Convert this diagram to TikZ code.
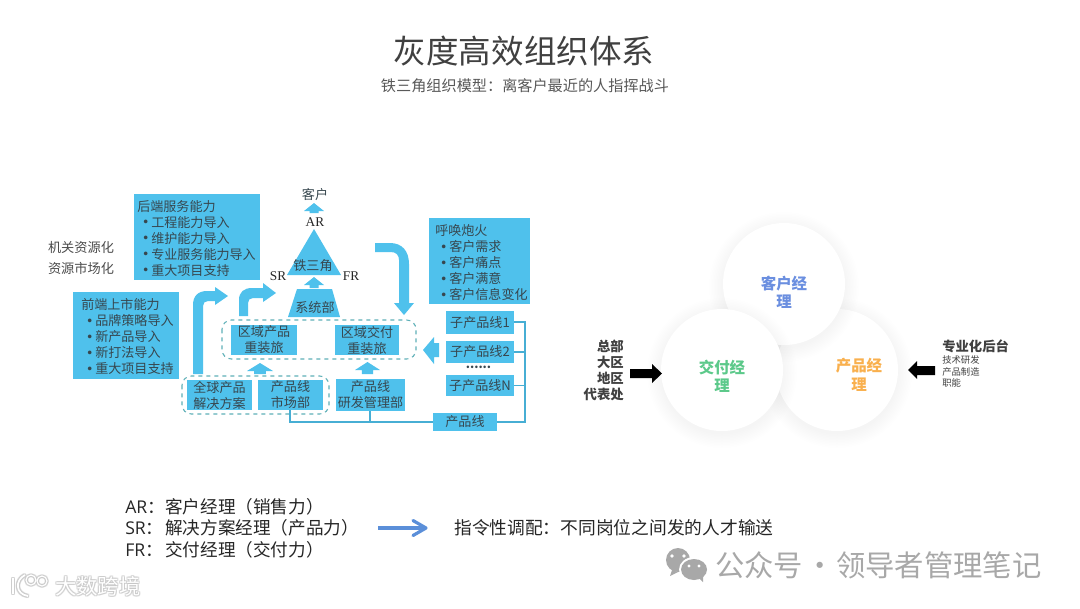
\documentclass[tikz,border=0pt]{standalone}
\usepackage{fontspec}
\setmainfont{Noto Sans CJK SC}
\newfontfamily\lat{Liberation Serif}
\newfontfamily\legl{Open Sans}
\usetikzlibrary{calc}
\definecolor{sky}{HTML}{4FC1EC}
\definecolor{ink}{HTML}{37474F}
\definecolor{dash}{HTML}{5FB0B8}
\definecolor{amblue}{HTML}{6B8FE0}
\definecolor{dmgreen}{HTML}{5CC98A}
\definecolor{pmorange}{HTML}{F9B04E}
\definecolor{wm}{HTML}{A8A8A8}
\definecolor{arrowblue}{HTML}{5B8FD9}
\tikzset{
  x=0.75pt,y=-0.75pt,
  bluebox/.style={fill=sky,draw=none,inner sep=0pt,align=center,text=ink,font=\fontsize{9.8}{12}\selectfont},
  listtxt/.style={anchor=north west,inner sep=0pt,align=left,text=ink,font=\fontsize{9.8}{12}\selectfont},
  linkline/.style={draw=sky!90!black,line width=0.8pt},
  dashbox/.style={draw=dash,dashed,line width=0.8pt,rounded corners=7pt},
  skyfill/.style={fill=sky,draw=none},
  blackfill/.style={fill=black,draw=none},
  ball/.style={circle,fill=white,draw=none,inner sep=0pt,minimum size=91.5pt},
  balltxt/.style={align=center,font=\fontsize{11.6}{13.8}\selectfont\bfseries},
  legendtxt/.style={anchor=west,inner sep=0pt,text=black!85,font=\fontsize{13.2}{15}\selectfont},
  sidetxt/.style={inner sep=0pt,text=black!75,font=\fontsize{10}{12}\selectfont\bfseries},
  smalltxt/.style={anchor=west,inner sep=0pt,text=black!75,font=\fontsize{7}{9}\selectfont},
  halotxt/.style={anchor=west,inner sep=0pt,font=\fontsize{16}{18}\selectfont},
}
\newcommand{\softball}[3]{%
  \foreach \k in {1,...,10}{\fill[black,opacity=0.004] (#1,#2+3) circle ({60+\k*1.5});}
  \node[ball] (#3) at (#1,#2) {};
}
\newcommand{\uparr}[4]{% cx top halfwidth bottom
  \fill[skyfill] (#1-#3,#2+8) -- (#1,#2) -- (#1+#3,#2+8) -- (#1+#3*0.45,#2+8) -- (#1+#3*0.45,#4) -- (#1-#3*0.45,#4) -- (#1-#3*0.45,#2+8) -- cycle;
}
\newcommand{\bbox}[6]{\node[bluebox,minimum width={(#4-#2)*0.75pt},minimum height={(#5-#3)*0.75pt}] (#1) at ({(#2+#4)/2},{(#3+#5)/2}) {#6};}
\newcommand{\bul}{\makebox[10.5pt][l]{\raisebox{-1.2pt}{\fontsize{13}{12}\selectfont\textbullet}}}
\newcommand{\legtag}[1]{\makebox[30pt][l]{{\legl #1}：}}
\begin{document}
\normallineskiplimit=-20pt
\lineskiplimit=-20pt
\begin{tikzpicture}
\useasboundingbox (0,0) rectangle (1080,608);
\fill[white] (0,0) rectangle (1080,608);

% titles
\node[text=black!75,font=\fontsize{24.4}{28}\selectfont] (title) at (524,51) {灰度高效组织体系};
\node[text=black!65,font=\fontsize{11.37}{13}\selectfont] (subtitle) at (525,86) {铁三角组织模型：离客户最近的人指挥战斗};

% left labels
\node[text=black!70,font=\fontsize{9.9}{12}\selectfont] (lab1) at (81,247) {机关资源化};
\node[text=black!70,font=\fontsize{9.9}{12}\selectfont] (lab2) at (81,268) {资源市场化};

% text panels
\fill[skyfill] (134,194) rectangle (260,280);
\node[listtxt] (back) at (137,200) {后端服务能力\\\bul 工程能力导入\\\bul 维护能力导入\\\bul 专业服务能力导入\\\bul 重大项目支持};
\fill[skyfill] (73,292) rectangle (179,379);
\node[listtxt] (front) at (81,298.5) {前端上市能力\\\bul 品牌策略导入\\\bul 新产品导入\\\bul 新打法导入\\\bul 重大项目支持};
\fill[skyfill] (429,218) rectangle (530,304);
\node[listtxt] (call) at (435,224.5) {呼唤炮火\\\bul 客户需求\\\bul 客户痛点\\\bul 客户满意\\\bul 客户信息变化};

% dashed groups
\draw[dashbox] (222,320) rectangle (416,359);
\draw[dashbox] (182,376) rectangle (329,414);

% boxes
\bbox{qycp}{231}{325}{297}{355}{区域产品\\重装旅}
\bbox{qyjf}{335}{325}{399}{355}{区域交付\\重装旅}
\bbox{qqcp}{187}{380}{252}{410}{全球产品\\解决方案}
\bbox{cpsc}{258}{380}{323}{410}{产品线\\市场部}
\bbox{cpyf}{336}{379}{405}{411}{产品线\\研发管理部}
\bbox{cpx}{433}{413}{497}{431}{产品线}
\bbox{z1}{446}{311}{514}{334}{子产品线1}
\bbox{z2}{446}{341}{514}{363}{子产品线2}
\bbox{zn}{446}{375}{514}{396}{子产品线N}
\node[text=ink,font=\fontsize{9}{9}\selectfont\bfseries] (dots) at (478.5,367) {......};

% connector lines
\coordinate (bus1) at (290,422);
\coordinate (bus2) at (370,422);
\coordinate (rtop) at (525,322);
\coordinate (rmid) at (525,352);
\coordinate (rn) at (525,385.5);
\coordinate (rbot) at (525,422);
\draw[linkline] (cpsc.south -| bus1) -- (bus1) -- (cpx.west |- bus1);
\draw[linkline] (cpyf.south -| bus2) -- (bus2);
\draw[linkline] (cpx.east |- rbot) -- (rbot) -- (rtop) -- (z1.east |- rtop);
\draw[linkline] (rmid) -- (z2.east |- rmid);
\draw[linkline] (rn) -- (zn.east |- rn);

% triangle and trapezoid
\fill[skyfill] (314,229) -- (341,275) -- (287,275) -- cycle;
\node[text=ink,font=\fontsize{9.8}{11}\selectfont] (tiesan) at (313,266) {铁三角};
\fill[skyfill] (297,289) -- (332,289) -- (340,317) -- (288,317) -- cycle;
\node[text=ink,font=\fontsize{9.8}{11}\selectfont] (xitong) at (315,307) {系统部};
\node[text=ink,font=\fontsize{9.8}{11}\selectfont] (kehu) at (315,195) {客户};
\node[text=black!85,font=\fontsize{10}{11}\selectfont\lat] (ar) at (315,222) {AR};
\node[text=black!85,font=\fontsize{10}{11}\selectfont\lat] (sr) at (278,276) {SR};
\node[text=black!85,font=\fontsize{10}{11}\selectfont\lat] (fr) at (351,276) {FR};

% small up arrows
\uparr{314}{203}{10}{213}
\uparr{314}{277}{10}{288}
\uparr{260}{363}{13}{374}
\uparr{367.5}{362}{12.5}{374}

% left arrow
\fill[skyfill] (423,350) -- (434,337) -- (434,343) -- (439,343) -- (439,357) -- (434,357) -- (434,364) -- cycle;

% big bent arrows
\fill[skyfill] (193,374) -- (193,305) .. controls (193,296) and (198,291) .. (207,291) -- (215,291) -- (215,287) -- (228,296) -- (215,305) -- (215,301) -- (208,301) .. controls (205,301) and (203,303) .. (203,306) -- (203,374) -- cycle;
\fill[skyfill] (239,316) -- (239,300) .. controls (239,292) and (244,288) .. (252,288) -- (263,288) -- (263,283) -- (276,293) -- (263,302) -- (263,298) -- (253,298) .. controls (250,298) and (248,300) .. (248,303) -- (248,316) -- cycle;
\fill[skyfill] (375,243) -- (390,243) .. controls (402,243) and (409,251) .. (409,264) -- (409,303) -- (414,303) -- (404,315) -- (394,303) -- (399,303) -- (399,260) .. controls (399,255) and (396,252) .. (391,252) -- (375,252) -- cycle;

% circles
\softball{837}{370}{pm}
\softball{784}{284}{am}
\softball{722}{370}{dm}
\node[balltxt,text=amblue] (amt) at (784,292.5) {客户经\\理};
\node[balltxt,text=dmgreen] (dmt) at (722,376) {交付经\\理};
\node[balltxt,text=pmorange] (pmt) at (859,375) {产品经\\理};

% left stack and arrow
\node[sidetxt,anchor=east] (s1) at (624,346) {总部};
\node[sidetxt,anchor=east] (s2) at (624,362) {大区};
\node[sidetxt,anchor=east] (s3) at (624,378) {地区};
\node[sidetxt,anchor=east] (s4) at (624,394) {代表处};
\fill[blackfill] (630,369) -- (652,369) -- (652,364) -- (662,373.5) -- (652,383) -- (652,378) -- (630,378) -- cycle;

% right stack and arrow
\fill[blackfill] (935,366) -- (917,366) -- (917,361) -- (908,370) -- (917,379) -- (917,375) -- (935,375) -- cycle;
\node[sidetxt,anchor=west] (b0) at (942,346) {专业化后台};
\node[smalltxt] (b1) at (942,360) {技术研发};
\node[smalltxt] (b2) at (942,372) {产品制造};
\node[smalltxt] (b3) at (942,383) {职能};

% legend
\node[legendtxt] (l1) at (125,507) {\legtag{AR}客户经理（销售力）};
\node[legendtxt] (l2) at (125,528) {\legtag{SR}解决方案经理（产品力）};
\node[legendtxt] (l3) at (125,550) {\legtag{FR}交付经理（交付力）};
\coordinate (barrowa) at (378,528);
\coordinate (barrowb) at (426,528);
\draw[arrowblue,line width=2.4pt] (barrowa) -- (barrowb);
\draw[arrowblue,line width=2.4pt,line cap=round,line join=round] (413,520.5) -- (barrowb) -- (413,535.5);
\node[legendtxt,font=\fontsize{13.3}{15}\selectfont] (l4) at (454,528) {指令性调配：不同岗位之间发的人才输送};

% watermark WeChat
\fill[wm] (678,560) ellipse (12 and 12);
\fill[wm] (672,570) -- (670,576) -- (678,572) -- cycle;
\fill[white] (694,569.5) ellipse (15 and 12.5);
\fill[wm] (694,569.5) ellipse (13 and 10.5);
\fill[wm] (699,578) -- (703,582) -- (703,575) -- cycle;
\fill[white] (672,556) circle (1.9) (684,556) circle (1.9) (689,566) circle (1.6) (699,566) circle (1.6);
\node[text=wm,font=\fontsize{22}{24}\selectfont,anchor=west,inner sep=0pt] (wmt) at (715,565) {公众号\makebox[24.75pt][c]{·}领导者管理笔记};

% watermark bottom-left
\foreach \dx/\dy in {-1/0,1/0,0/-1,0/1,-1/-1,1/1,-1/1,1/-1}{
  \node[halotxt,text=black!22,opacity=0.5] at (55+\dx,586.5+\dy) {大数跨境};
  \draw[black!22,opacity=0.5,line width=1.6pt] (13+\dx,578+\dy) -- (13+\dx,594+\dy);
  \draw[black!22,opacity=0.5,line width=1.6pt] (25+\dx,575+\dy) .. controls (15+\dx,580+\dy) and (15+\dx,594+\dy) .. (28+\dx,596+\dy);
  \draw[black!22,opacity=0.5,line width=1pt] (31+\dx,580+\dy) circle (5);
  \draw[black!22,opacity=0.5,line width=1pt] (42+\dx,581+\dy) circle (5);
}
\node[halotxt,text=white] (wm2) at (55,586.5) {大数跨境};
\draw[white,line width=1.3pt] (13,578) -- (13,594);
\draw[white,line width=1.3pt] (25,575) .. controls (15,580) and (15,594) .. (28,596);
\draw[white,line width=0.9pt] (31,580) circle (5);
\draw[white,line width=0.9pt] (42,581) circle (5);
\end{tikzpicture}
\end{document}
